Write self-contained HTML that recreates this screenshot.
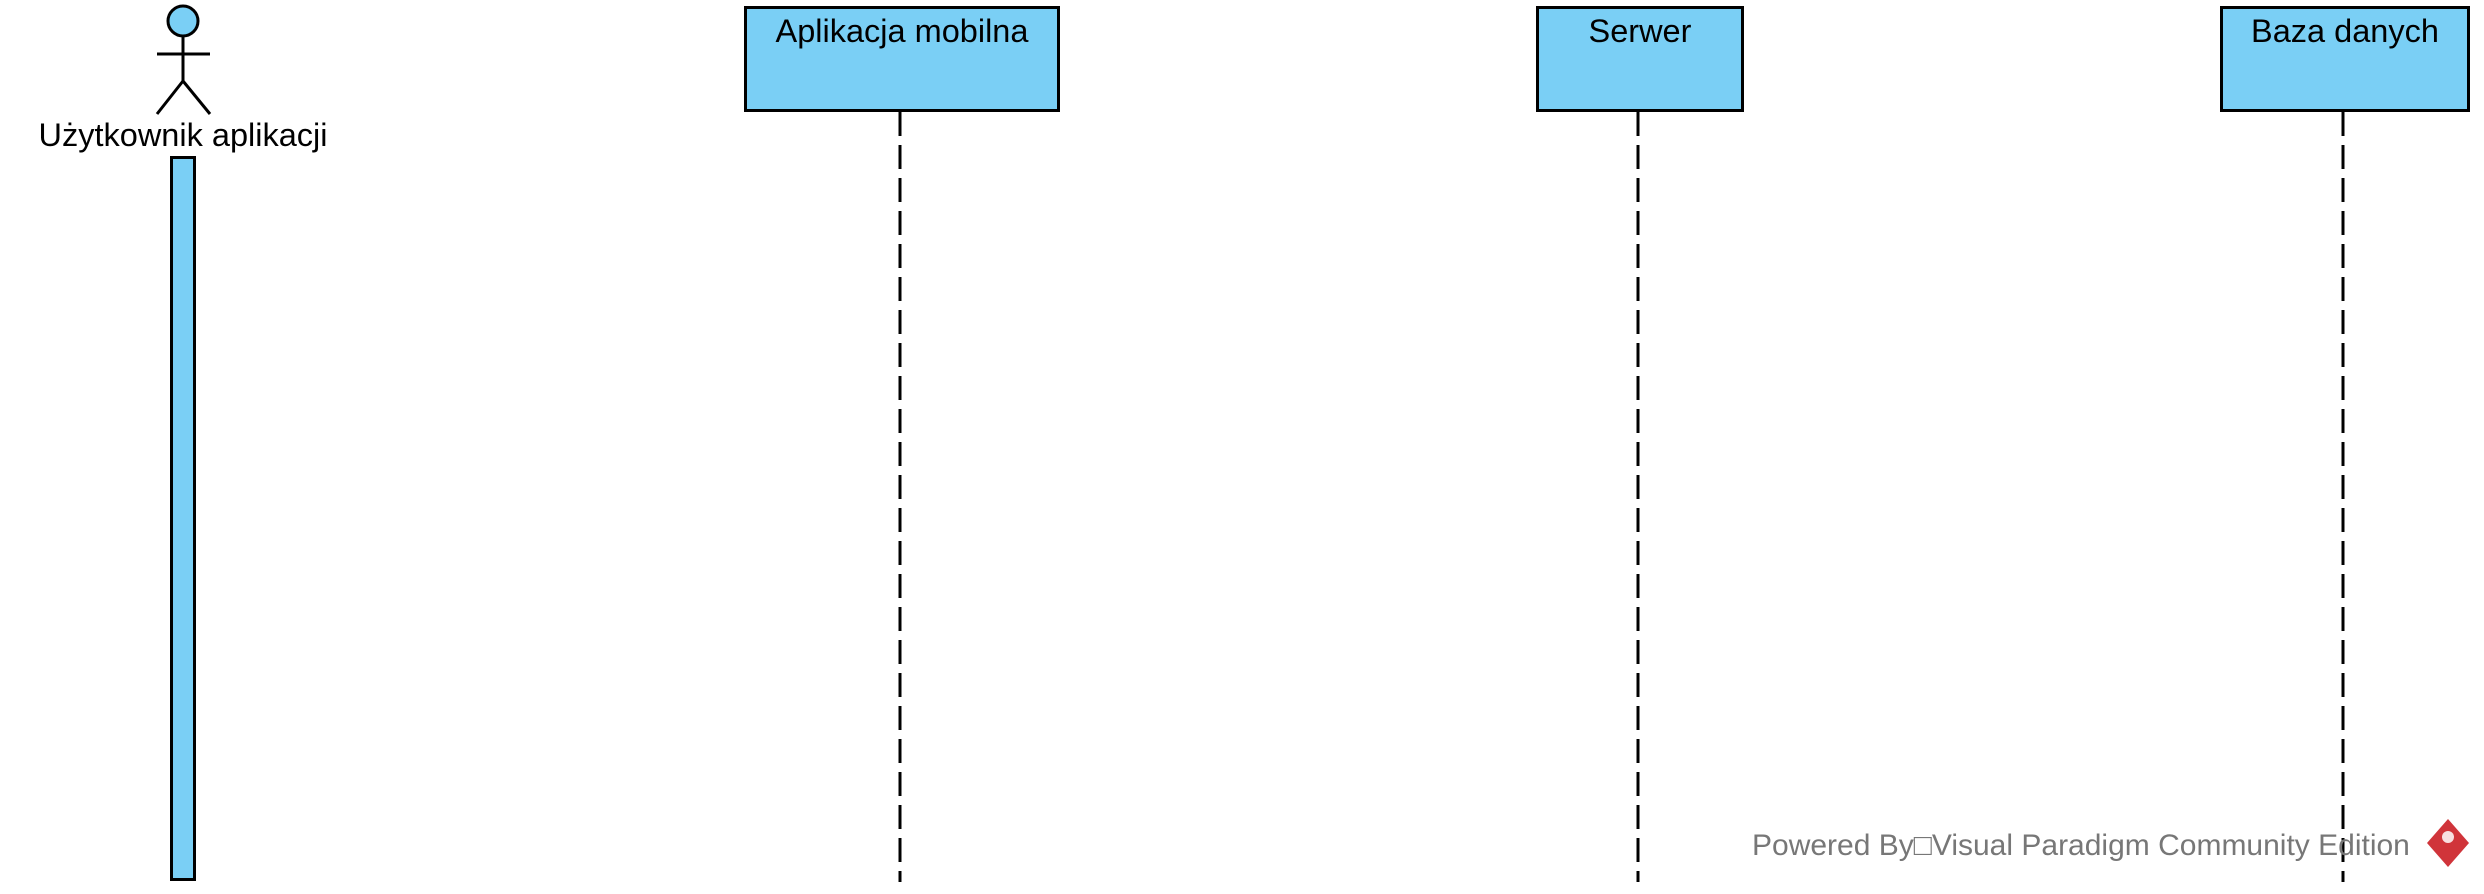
<!DOCTYPE html>
<html><head><meta charset="utf-8"><style>
html,body{margin:0;padding:0;background:#fff;}
svg{display:block;}
text{font-family:"Liberation Sans",Arial,sans-serif;}
</style></head><body>
<svg width="2484" height="894" xmlns="http://www.w3.org/2000/svg">
<rect width="2484" height="894" fill="#fff"/>
<!-- actor -->
<circle cx="183" cy="21" r="15" fill="#7ACFF5" stroke="#000" stroke-width="3"/>
<line x1="183" y1="36" x2="183" y2="81" stroke="#000" stroke-width="3"/>
<line x1="157" y1="54" x2="210" y2="54" stroke="#000" stroke-width="3"/>
<line x1="183" y1="81" x2="157" y2="114" stroke="#000" stroke-width="3"/>
<line x1="183" y1="81" x2="210" y2="114" stroke="#000" stroke-width="3"/>
<text x="183" y="146" font-size="32.5" text-anchor="middle">Użytkownik aplikacji</text>
<rect x="171.5" y="157.5" width="23" height="722" fill="#7ACFF5" stroke="#000" stroke-width="3"/>
<!-- boxes -->
<rect x="745.5" y="7.5" width="313" height="103" fill="#7ACFF5" stroke="#000" stroke-width="3"/>
<text x="902" y="42" font-size="32.5" text-anchor="middle">Aplikacja mobilna</text>
<rect x="1537.5" y="7.5" width="205" height="103" fill="#7ACFF5" stroke="#000" stroke-width="3"/>
<text x="1640" y="42" font-size="32.5" text-anchor="middle">Serwer</text>
<rect x="2221.5" y="7.5" width="247" height="103" fill="#7ACFF5" stroke="#000" stroke-width="3"/>
<text x="2345" y="42" font-size="32.5" text-anchor="middle">Baza danych</text>
<!-- lifelines -->
<g stroke="#000" stroke-width="3" stroke-dasharray="24 9">
<line x1="900" y1="112" x2="900" y2="882"/>
<line x1="1638" y1="112" x2="1638" y2="882"/>
<line x1="2343" y1="112" x2="2343" y2="882"/>
</g>
<!-- watermark -->
<text x="1752" y="855" font-size="30" fill="#777">Powered By□Visual Paradigm Community Edition</text>
<g transform="translate(2448,843)">
<polygon points="0,-24 21,0 0,24 -21,0" fill="#D0343A"/>
<circle cx="0" cy="-6" r="6" fill="#fff" opacity="0.85"/>
</g>
</svg>
</body></html>
